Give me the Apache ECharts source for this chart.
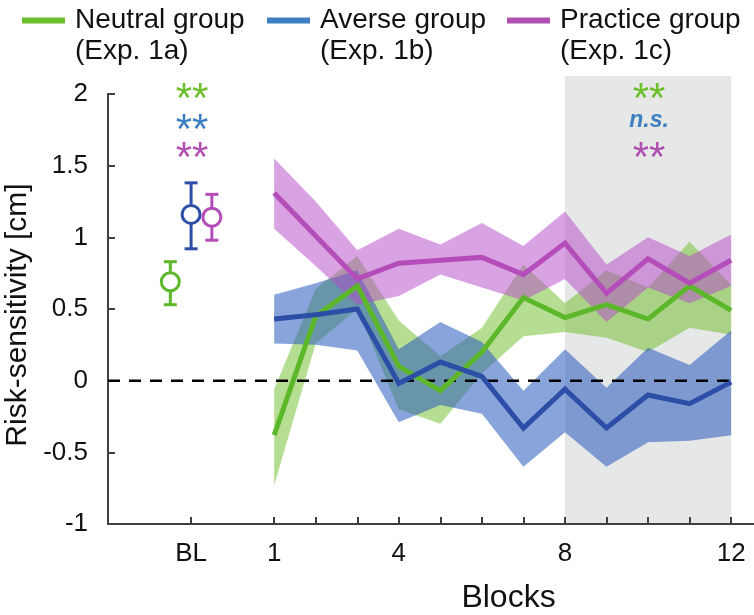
<!DOCTYPE html>
<html><head><meta charset="utf-8">
<script src="https://cdn.jsdelivr.net/npm/echarts@6/dist/echarts.min.js"></script>
<style>html,body{margin:0;padding:0;background:#fff}#c{width:754px;height:615px}</style>
</head><body><div id="c"></div><script>
// ---- data ----
const blocks = [1, 2, 3, 4, 5, 6, 7, 8, 9, 10, 11, 12];
const groupNames = ['Neutral group', 'Averse group', 'Practice group'];
const groupSub = ['(Exp. 1a)', '(Exp. 1b)', '(Exp. 1c)'];
const neutralMean = [-0.38, 0.45, 0.66, 0.10, -0.07, 0.20, 0.58, 0.44, 0.53, 0.43, 0.66, 0.49];
const neutralLow  = [-0.73, 0.26, 0.50, -0.20, -0.30, 0.05, 0.31, 0.34, 0.30, 0.20, 0.37, 0.32];
const neutralHigh = [-0.06, 0.64, 0.87, 0.42, 0.17, 0.37, 0.81, 0.54, 0.77, 0.65, 0.97, 0.67];
const averseMean  = [0.43, 0.46, 0.50, -0.02, 0.13, 0.03, -0.33, -0.06, -0.33, -0.10, -0.16, -0.01];
const averseLow   = [0.26, 0.25, 0.21, -0.29, -0.17, -0.23, -0.60, -0.36, -0.60, -0.43, -0.42, -0.38];
const averseHigh  = [0.60, 0.68, 0.77, 0.22, 0.41, 0.27, -0.07, 0.22, -0.05, 0.23, 0.11, 0.35];
const practiceMean = [1.31, 1.01, 0.71, 0.82, 0.84, 0.86, 0.74, 0.96, 0.61, 0.85, 0.68, 0.84];
const practiceLow  = [1.06, 0.80, 0.53, 0.59, 0.74, 0.65, 0.56, 0.71, 0.41, 0.65, 0.54, 0.66];
const practiceHigh = [1.55, 1.25, 0.91, 1.06, 0.95, 1.10, 0.94, 1.18, 0.81, 1.00, 0.87, 1.02];
// baseline (BL): neutral, averse, practice
const blMean = [0.69, 1.16, 1.14];
const blLow  = [0.53, 0.92, 0.98];
const blHigh = [0.83, 1.38, 1.30];
const xTickValues = [-1, 1, 2, 3, 4, 5, 6, 7, 8, 9, 10, 11, 12];
const xLabelValues = [-1, 1, 4, 8, 12];
const blValue = -1;
const shadeBlocks = [8, 12];
const shadeTop = 2.125;
const sigBL = ['**', '**', '**'];
const sigLate = ['**', 'n.s.', '**'];

// ---- styles ----
const FONT = '"Liberation Sans", Arial, sans-serif';
const lineColors = ['#5cb82a', '#2c4ea6', '#b44cba'];
const legendColors = ['#6abf2a', '#3d7fc1', '#b050b0'];
const bandColors = ['rgba(110,190,40,0.5)', 'rgba(40,90,190,0.55)', 'rgba(180,70,200,0.5)'];
const sigColors = ['#6abf2a', '#3d7fc1', '#b050b0'];
const axisColor = '#404040';

const means = [neutralMean, averseMean, practiceMean];
const lows = [neutralLow, averseLow, practiceLow];
const highs = [neutralHigh, averseHigh, practiceHigh];

const chart = echarts.init(document.getElementById('c'));

function bandSeries(k) {
  return {
    type: 'custom', name: groupNames[k] + ' band', silent: true, z: 2, clip: false,
    data: blocks.map((b, i) => [b, lows[k][i], highs[k][i]]),
    encode: { x: 0, y: [1, 2] },
    renderItem: (params, api) => {
      if (params.dataIndex !== 0) return null;
      const top = blocks.map((b, i) => api.coord([b, highs[k][i]]));
      const bot = blocks.map((b, i) => api.coord([b, lows[k][i]])).reverse();
      return { type: 'polygon', shape: { points: top.concat(bot) }, style: { fill: bandColors[k] } };
    }
  };
}
function lineSeries(k) {
  return {
    type: 'line', name: groupNames[k], z: 5, symbol: 'none', silent: true,
    data: blocks.map((b, i) => [b, means[k][i]]),
    lineStyle: { color: lineColors[k], width: 5, cap: 'butt', join: 'miter' },
    itemStyle: { color: legendColors[k] }
  };
}
const blOffsets = [-0.5, 0, 0.5];
const blSeries = {
  type: 'custom', name: 'BL', z: 6, clip: false, silent: true,
  data: blMean.map((m, i) => [blValue + blOffsets[i], m, blLow[i], blHigh[i]]),
  encode: { x: 0, y: [1, 2, 3] },
  renderItem: (params, api) => {
    const i = params.dataIndex;
    const c = api.coord([api.value(0), api.value(1)]);
    const lo = api.coord([api.value(0), api.value(2)]);
    const hi = api.coord([api.value(0), api.value(3)]);
    const col = lineColors[i];
    const st = { stroke: col, lineWidth: 3, fill: null };
    return { type: 'group', children: [
      { type: 'line', shape: { x1: c[0], y1: lo[1], x2: c[0], y2: hi[1] }, style: st },
      { type: 'line', shape: { x1: c[0] - 6.5, y1: lo[1], x2: c[0] + 6.5, y2: lo[1] }, style: st },
      { type: 'line', shape: { x1: c[0] - 6.5, y1: hi[1], x2: c[0] + 6.5, y2: hi[1] }, style: st },
      { type: 'circle', shape: { cx: c[0], cy: c[1], r: 9 }, style: { stroke: col, lineWidth: 3, fill: '#fff' } }
    ]};
  }
};
const shadeSeries = {
  type: 'custom', name: 'shade', z: 0, clip: false, silent: true,
  data: [[shadeBlocks[0], shadeBlocks[1]]],
  renderItem: (params, api) => {
    const p1 = api.coord([shadeBlocks[0], shadeTop]);
    const p2 = api.coord([shadeBlocks[1], -1]);
    return { type: 'rect', shape: { x: p1[0], y: p1[1], width: p2[0] - p1[0], height: p2[1] - p1[1] }, style: { fill: '#e6e7e7' } };
  }
};
const zeroLine = {
  type: 'line', name: 'zero', z: 3, symbol: 'none', silent: true,
  data: [[-3, 0], [12, 0]],
  lineStyle: { color: '#000', width: 2.5, type: [12, 9] }
};

function legendFor(k, left) {
  return {
    left: left, top: 0, selectedMode: false, orient: 'horizontal',
    data: [{ name: groupNames[k], itemStyle: { color: legendColors[k], borderWidth: 0 } }],
    icon: 'path://M0,12.5h43v6h-43Z M0,0 M48,62',
    itemWidth: 48, itemHeight: 62,
    formatter: (n) => n + '\n' + groupSub[k],
    textStyle: { fontSize: 28, lineHeight: 31, fontFamily: FONT, color: '#111' }
  };
}

function sigText(x, y, text, color) {
  const isNS = text === 'n.s.';
  return {
    type: 'text', x: x, y: isNS ? y : y + 10, z: 20,
    style: {
      text: text, fill: color, align: 'center', verticalAlign: 'middle',
      font: isNS ? 'italic bold 23px "Liberation Sans", Arial, sans-serif' : '42px "Liberation Sans", Arial, sans-serif'
    }
  };
}
const graphics = [];
const sigYs = [90, 121, 149];
for (let k = 0; k < 3; k++) {
  graphics.push(sigText(192, sigYs[k], sigBL[k], sigColors[k]));
  graphics.push(sigText(649, sigYs[k], sigLate[k], sigColors[k]));
}

chart.setOption({
  animation: false,
  backgroundColor: '#fff',
  textStyle: { fontFamily: FONT },
  grid: { left: 108, right: 0, top: 94, bottom: 91, containLabel: false, outerBoundsMode: 'none' },
  legend: [legendFor(0, 17), legendFor(1, 262), legendFor(2, 502)],
  xAxis: {
    type: 'value', min: -3, max: 12.55,
    axisLine: { show: true, onZero: false, lineStyle: { color: axisColor, width: 2 } },
    axisTick: { show: true, inside: true, length: 7, customValues: xTickValues, lineStyle: { color: axisColor, width: 2 } },
    axisLabel: { customValues: xLabelValues, formatter: (v) => v === blValue ? 'BL' : String(v), fontSize: 26, color: '#111', margin: 17, fontFamily: FONT },
    splitLine: { show: false },
    name: 'Blocks', nameLocation: 'middle', nameGap: 58,
    nameTextStyle: { fontSize: 32, color: '#111', fontFamily: FONT, padding: [0, 0, 0, 155] }
  },
  yAxis: {
    type: 'value', min: -1, max: 2, interval: 0.5,
    axisLine: { show: true, onZero: false, lineStyle: { color: axisColor, width: 2 } },
    axisTick: { show: true, inside: true, length: 7, lineStyle: { color: axisColor, width: 2 } },
    axisLabel: { fontSize: 26, color: '#111', margin: 20, fontFamily: FONT },
    splitLine: { show: false },
    name: 'Risk-sensitivity [cm]', nameLocation: 'middle', nameGap: 68,
    nameTextStyle: { fontSize: 30, color: '#111', fontFamily: FONT, padding: [0, 12, 0, 0] }
  },
  graphic: graphics,
  series: [shadeSeries, bandSeries(0), bandSeries(1), bandSeries(2), zeroLine,
           lineSeries(0), lineSeries(1), lineSeries(2), blSeries]
});
</script></body></html>
